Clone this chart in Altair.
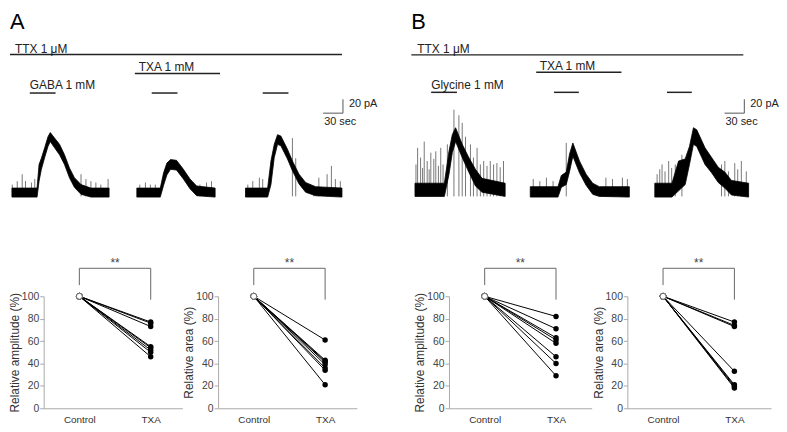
import altair as alt
import pandas as pd

FONT = "Liberation Sans"

# ---------------- top traces (time in s, current in pA; envelope of noisy trace)
A1_T = [3, 41, 44, 47.5, 52.5, 57.5, 61, 67.5, 75, 82.5, 90, 97.5, 107.5, 122.5, 150]
A1_HI = [6, 6, 40, 49, 64, 80, 86, 78, 69, 54, 35, 21, 11, 6, 6]
A1_LO = [-7, -7, 16, 33, 50, 66, 73, 64, 54, 40, 21, 7, -3, -7, -7]

A2_T = [192, 227.5, 232.5, 237.5, 243, 252, 262.5, 272.5, 282.5, 310.5]
A2_HI = [6, 6, 28, 42, 47, 46, 33, 19, 9, 6]
A2_LO = [-7, -7, 10, 25, 33, 32, 19, 5, -5, -7]

A3_T = [356.5, 390, 395, 400, 405, 410, 420, 427.5, 437.5, 447.5, 462.5, 502.5]
A3_HI = [6, 6, 45, 69, 83, 81, 62, 45, 26, 14, 8, 6]
A3_LO = [-7, -7, 11, 50, 69, 67, 48, 31, 12, 0, -5, -7]

A_SPIKE_T = [3.5, 11, 18.5, 23.5, 32.5, 37.5, 107.5, 115, 122.5, 130, 137.5, 148.5,
             196.5, 205, 212.5, 220, 287.5, 297.5, 305,
             360, 367.5, 377.5, 382.5, 427.5, 432.5, 460, 467.5, 480, 486.5, 492.5, 500]
A_SPIKE_TOP = [11, 16, 26, 16, 14, 19, 26, 19, 16, 14, 11, 19,
               11, 14, 11, 11, 11, 14, 16,
               11, 16, 21, 19, 78, 49, 9, 21, 26, 38, 19, 16]

B1_T = [5.5, 50, 57, 62, 67, 77, 87, 97, 107, 142]
B1_HI = [13, 13, 59, 83, 93, 69, 50, 33, 20, 13]
B1_LO = [-6, -6, 26, 57, 73, 50, 29, 9, 0, -6]

B2_T = [180, 222, 227, 234.5, 239.5, 244.5, 254.5, 264.5, 274.5, 284.5, 330]
B2_HI = [8, 8, 24, 29, 55, 71, 45, 26, 13, 8, 8]
B2_LO = [-7, -7, 7, 11, 30, 52, 28, 10, -3, -6, -7]

B3_T = [368.5, 394.5, 404.5, 414.5, 421, 427, 432, 444.5, 454.5, 464.5, 474.5, 484.5, 510.5]
B3_HI = [13, 13, 45, 48, 66, 93, 90, 64, 50, 36, 29, 17, 13]
B3_LO = [-7, -7, 2, 11, 40, 69, 66, 40, 28, 14, 6, -4, -7]

B_SPIKE_T = [7, 9.5, 14, 17, 19.5, 24, 27, 29.5, 34, 37, 41, 44.5, 48, 54.5, 64.5, 72, 77, 82,
             89.5, 94, 99.5, 104.5, 109.5, 114.5, 119.5, 124.5, 129.5, 134.5, 139.5,
             184.5, 194.5, 204.5, 214.5, 234.5, 294.5, 304.5, 319.5, 327,
             372, 376, 379.5, 384, 389.5, 394, 399.5, 409.5, 469.5, 474.5, 480, 489.5, 494,
             499.5, 507]
B_SPIKE_TOP = [40, 64, 50, 35, 73, 45, 33, 57, 48, 59, 38, 64, 40, 69, 119, 111, 100, 80,
               69, 50, 64, 40, 45, 38, 45, 40, 42, 36, 45,
               19, 16, 21, 16, 71, 21, 19, 21, 19,
               26, 33, 40, 30, 45, 35, 40, 54, 40, 45, 30, 42, 33, 45, 30]
SPIKE_BASE = -6

# drug application bars: start, end (s) and row level
A_BAR_START = [0, 189, 30, 214.5, 382.5]
A_BAR_END = [502.5, 318, 69, 253.5, 421.5]
A_BAR_LEVEL = [198.6, 171, 143, 143, 143]
A_LABELS = ["A", "TTX 1 μM", "TXA 1 mM", "GABA 1 mM"]
A_LABEL_T = [0, 7.5, 195, 30]
A_LABEL_LEVEL = [236, 201, 175, 149]

B_BAR_START = [0, 189, 30, 216, 387]
B_BAR_END = [502.5, 318, 69, 253.5, 424.5]
B_BAR_LEVEL = [198, 173, 144, 144, 144]
B_LABELS = ["B", "TTX 1 μM", "TXA 1 mM", "Glycine 1 mM"]
B_LABEL_T = [0, 9, 194.5, 30]
B_LABEL_LEVEL = [236, 201, 176, 149]

# scale bar: 30 s, 20 pA
SB_T = [474, 504]
SB_PA = [114, 134]
SB_LABELS = ["20 pA", "30 sec"]
SB_LABEL_T = [513, 475.5]
SB_LABEL_PA = [127, 101]

# visible time window of the recording panels (s); the window starts at the
# summary plots' axis, so earlier samples are drawn to its left
A_VIEW = [51, 606]
B_VIEW = [57, 552]

# ---------------- bottom summary plots (% of control)
CONDITIONS = ["Control", "TXA"]
CONTROL_VALUE = 100
A_AMP_TXA = [77, 76, 73, 55, 54, 52, 50, 46]
A_AREA_TXA = [61, 43, 42, 41, 39, 36, 34, 21]
B_AMP_TXA = [82, 71, 63, 61, 58, 46, 40, 29]
B_AREA_TXA = [77, 74, 73, 33, 21, 20, 19, 18]
BRACKET_X = [1, 1, 2]
BRACKET_X2 = [1, 2, 2]
BRACKET_Y = [110, 125, 97]
BRACKET_Y2 = [125, 125, 125]
SIG_LABEL = "**"
SIG_Y = 126.5
Y_TICKS = [0, 20, 40, 60, 80, 100]

PA_DOMAIN = [-8.57, 257.14]
PX_PER_SEC = 1 / 1.5
PX_PER_PA = 0.7
SUMMARY_H = 113


def top_panel(traces, spike_t, spike_top, bar_s, bar_e, bar_l,
              labels, label_t, label_l, view):
    rows = []
    for k, (t, hi, lo) in enumerate(traces):
        for a, b, c in zip(t, hi, lo):
            rows.append({"trace": k, "t": a, "hi": b, "lo": c})
    tr = pd.DataFrame(rows)
    sp = pd.DataFrame({"t": spike_t, "top": spike_top, "base": [SPIKE_BASE] * len(spike_t)})
    bars = pd.DataFrame({"s": bar_s, "e": bar_e, "l": bar_l})
    labs = pd.DataFrame({"label": labels[1:], "t": label_t[1:], "l": label_l[1:]})
    letter = pd.DataFrame({"label": labels[:1], "t": label_t[:1], "l": label_l[:1]})
    sbh = pd.DataFrame({"s": [SB_T[0]], "e": [SB_T[1]], "l": [SB_PA[0]]})
    sbv = pd.DataFrame({"t": [SB_T[1]], "a": [SB_PA[0]], "b": [SB_PA[1]]})
    sbl = pd.DataFrame({"label": SB_LABELS, "t": SB_LABEL_T, "l": SB_LABEL_PA})

    xs = alt.Scale(domain=view, nice=False, zero=False)
    ys = alt.Scale(domain=PA_DOMAIN, nice=False, zero=False)
    X = lambda f: alt.X(f, scale=xs, axis=None)
    Y = lambda f: alt.Y(f, scale=ys, axis=None)

    area = alt.Chart(tr).mark_area(color="black", opacity=1, stroke="black", strokeWidth=0.8).encode(
        x=X("t:Q"), y=Y("hi:Q"), y2="lo:Q", detail="trace:N")
    spikes = alt.Chart(sp).mark_rule(color="#555", strokeWidth=0.8).encode(
        x=X("t:Q"), y=Y("base:Q"), y2="top:Q")
    bar_layer = alt.Chart(bars).mark_rule(color="#222", strokeWidth=1.5).encode(
        x=X("s:Q"), x2="e:Q", y=Y("l:Q"))
    lab_layer = alt.Chart(labs).mark_text(align="left", baseline="alphabetic", font=FONT,
                                          fontSize=12, color="#222").encode(
        x=X("t:Q"), y=Y("l:Q"), text="label:N")
    let_layer = alt.Chart(letter).mark_text(align="left", baseline="alphabetic", font=FONT,
                                            fontSize=22, color="black").encode(
        x=X("t:Q"), y=Y("l:Q"), text="label:N")
    sb1 = alt.Chart(sbh).mark_rule(color="#555", strokeWidth=1).encode(
        x=X("s:Q"), x2="e:Q", y=Y("l:Q"))
    sb2 = alt.Chart(sbv).mark_rule(color="#555", strokeWidth=1).encode(
        x=X("t:Q"), y=Y("a:Q"), y2="b:Q")
    sb3 = alt.Chart(sbl).mark_text(align="left", baseline="middle", font=FONT,
                                   fontSize=11, color="#222").encode(
        x=X("t:Q"), y=Y("l:Q"), text="label:N")
    width = round((view[1] - view[0]) * PX_PER_SEC)
    height = round((PA_DOMAIN[1] - PA_DOMAIN[0]) * PX_PER_PA)
    return alt.layer(spikes, area, bar_layer, lab_layer, let_layer, sb1, sb2, sb3).properties(
        width=width, height=height)


def summary(values, title, width):
    rows = []
    for i, v in enumerate(values):
        rows.append({"cell": i, "x": 1, "y": CONTROL_VALUE})
        rows.append({"cell": i, "x": 2, "y": v})
    df = pd.DataFrame(rows)
    xscale = alt.Scale(domain=[0.5, 0.5 + width / 72], nice=False, zero=False)
    yscale = alt.Scale(domain=[0, 100], nice=False, zero=False)
    xaxis = alt.Axis(values=[1, 2], title=None, grid=False, ticks=False, tickSize=0,
                     labelExpr=f"datum.value == 1 ? '{CONDITIONS[0]}' : '{CONDITIONS[1]}'",
                     labelFont=FONT, labelFontSize=10, labelColor="#333", labelPadding=6,
                     domainColor="#aaa", domainWidth=1)
    yaxis = alt.Axis(values=Y_TICKS, title=title, grid=False, titleFont=FONT, titleFontSize=12,
                     titleFontWeight="normal", titleColor="#333", titlePadding=0,
                     labelFont=FONT, labelFontSize=10.5, labelColor="#444", labelPadding=1,
                     tickSize=4, tickColor="#aaa", domainColor="#aaa", domainWidth=1)
    X = lambda f: alt.X(f, scale=xscale, axis=xaxis)
    Y = lambda f: alt.Y(f, scale=yscale, axis=yaxis)
    base = alt.Chart(df)
    lines = base.mark_line(color="black", strokeWidth=1).encode(
        x=X("x:Q"), y=Y("y:Q"), detail="cell:N")
    txa = base.transform_filter("datum.x == 2").mark_circle(color="black", size=30, opacity=1).encode(
        x=X("x:Q"), y=Y("y:Q"))
    ctrl = base.transform_filter("datum.x == 1").mark_point(
        shape="circle", filled=True, fill="white", stroke="#666", strokeWidth=1, size=36, opacity=1
    ).encode(x=X("x:Q"), y=Y("y:Q"))
    br = pd.DataFrame({"bx": BRACKET_X, "bx2": BRACKET_X2, "by": BRACKET_Y, "by2": BRACKET_Y2})
    bracket = alt.Chart(br).mark_rule(color="#666", strokeWidth=1).encode(
        x=X("bx:Q"), x2="bx2:Q", y=Y("by:Q"), y2="by2:Q")
    sig = pd.DataFrame({"sx": [(BRACKET_X[0] + BRACKET_X2[2]) / 2], "sy": [SIG_Y], "s": [SIG_LABEL]})
    star = alt.Chart(sig).mark_text(font=FONT, fontSize=12, color="#444", baseline="alphabetic").encode(
        x=X("sx:Q"), y=Y("sy:Q"), text="s:N")
    return alt.layer(bracket, star, lines, ctrl, txa).properties(width=width, height=SUMMARY_H)


topA = top_panel([(A1_T, A1_HI, A1_LO), (A2_T, A2_HI, A2_LO), (A3_T, A3_HI, A3_LO)],
                 A_SPIKE_T, A_SPIKE_TOP, A_BAR_START, A_BAR_END, A_BAR_LEVEL,
                 A_LABELS, A_LABEL_T, A_LABEL_LEVEL, A_VIEW)
topB = top_panel([(B1_T, B1_HI, B1_LO), (B2_T, B2_HI, B2_LO), (B3_T, B3_HI, B3_LO)],
                 B_SPIKE_T, B_SPIKE_TOP, B_BAR_START, B_BAR_END, B_BAR_LEVEL,
                 B_LABELS, B_LABEL_T, B_LABEL_LEVEL, B_VIEW)

bottomA = alt.concat(summary(A_AMP_TXA, "Relative amplitude (%)", 140),
                     summary(A_AREA_TXA, "Relative area (%)", 140),
                     columns=2, spacing=0, align="none")
bottomB = alt.concat(summary(B_AMP_TXA, "Relative amplitude (%)", 144),
                     summary(B_AREA_TXA, "Relative area (%)", 145),
                     columns=2, spacing=0, align="none")
panelA = alt.concat(topA, bottomA, columns=1, spacing=58, align="none")
panelB = alt.concat(topB, bottomB, columns=1, spacing=58, align="none")

chart = alt.concat(panelA, panelB, columns=2, spacing=0, align="none").properties(
    padding=0).configure_view(stroke=None)

chart.save("out.html", embed_options={"renderer": "svg", "actions": False})
